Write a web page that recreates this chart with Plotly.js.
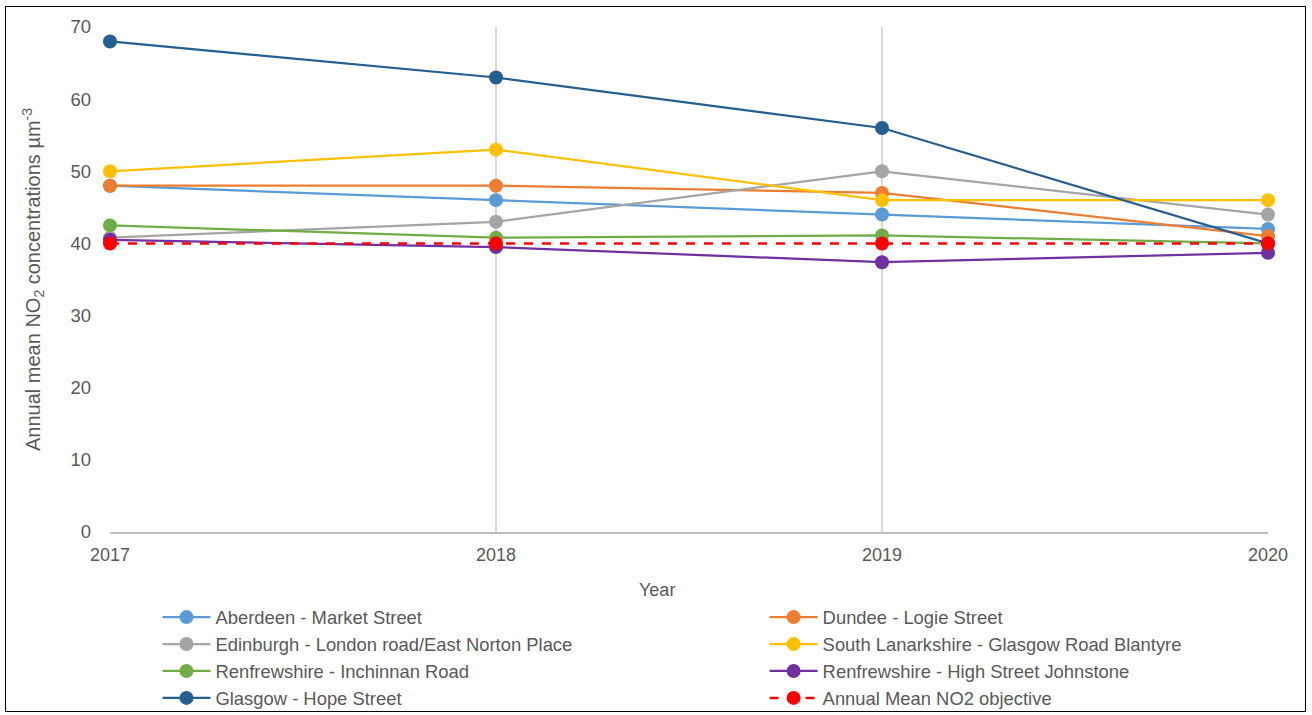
<!DOCTYPE html>
<html><head><meta charset="utf-8">
<script src="https://cdn.plot.ly/plotly-3.0.1.min.js"></script>
<style>
html,body{margin:0;padding:0;background:#fff;}
#wrap{position:relative;width:1312px;height:715px;}
#chart{position:absolute;left:0;top:0;width:1312px;height:715px;}
#frame{position:absolute;left:5px;top:6px;width:1299px;height:704px;border:1.5px solid #000;pointer-events:none;}
</style></head>
<body><div id="wrap"><div id="chart"></div><div id="frame"></div></div>
<script>
const years = [2017, 2018, 2019, 2020];
const aberdeen = [48, 46, 44, 42];
const dundee = [48, 48, 47, 41];
const edinburgh = [40.8, 43, 50, 44];
const southLanarkshire = [50, 53, 46, 46];
const renfrewInchinnan = [42.5, 40.8, 41.1, 40];
const renfrewHighSt = [40.5, 39.5, 37.4, 38.7];
const glasgowHope = [68, 63, 56, 40];
const objective = [40, 40, 40, 40];

const names = [
  'Aberdeen - Market Street',
  'Dundee - Logie Street',
  'Edinburgh - London road/East Norton Place',
  'South Lanarkshire - Glasgow Road Blantyre',
  'Renfrewshire - Inchinnan Road',
  'Renfrewshire - High Street Johnstone',
  'Glasgow - Hope Street',
  'Annual Mean NO2 objective'
];
const series = [aberdeen, dundee, edinburgh, southLanarkshire, renfrewInchinnan, renfrewHighSt, glasgowHope, objective];
const colors = ['#5B9BD5', '#ED7D31', '#A5A5A5', '#FFC000', '#70AD47', '#7030A0', '#255E91', '#FF0000'];

const traces = series.map((ys, i) => ({
  x: years, y: ys, name: names[i], type: 'scatter', mode: 'lines+markers',
  cliponaxis: false,
  legend: i % 2 === 0 ? 'legend' : 'legend2',
  line: {color: colors[i], width: i === 7 ? 2.5 : 2.25, dash: i === 7 ? 'dash' : 'solid'},
  marker: {color: colors[i], size: 14}
}));

const legendBase = {
  orientation: 'v', y: -0.132, xanchor: 'left', yanchor: 'top',
  itemwidth: 48, traceorder: 'normal', tracegroupgap: 0,
  bgcolor: 'rgba(0,0,0,0)',
  font: {size: 18.4, color: '#595959'}
};

const layout = {
  width: 1312, height: 715,
  margin: {l: 110, r: 44, t: 27, b: 183, autoexpand: false},
  paper_bgcolor: '#fff', plot_bgcolor: '#fff',
  font: {family: 'Liberation Sans, Arial, sans-serif', size: 18, color: '#595959'},
  showlegend: true,
  xaxis: {
    range: [2017, 2020], tickvals: years, ticktext: years.map(String),
    showgrid: true, gridcolor: '#D9D9D9', gridwidth: 2,
    showline: true, linecolor: '#BFBFBF', linewidth: 1.5,
    zeroline: false, ticks: '', ticklen: 0, ticklabelstandoff: 6,
    tickfont: {size: 18, color: '#595959'}
  },
  yaxis: {
    range: [0, 70], dtick: 10, showgrid: false, zeroline: false,
    showline: false, ticks: '', ticklabelstandoff: 18,
    tickfont: {size: 18.5, color: '#595959'},
    title: {text: 'Annual mean NO<sub>2</sub> concentrations µm<sup>-3</sup>', font: {size: 20, color: '#595959'}, standoff: 24}
  },
  annotations: [{
    text: 'Year', xref: 'paper', yref: 'paper', x: 0.4724, y: -0.115,
    xanchor: 'center', yanchor: 'middle', showarrow: false,
    font: {size: 18, color: '#595959'}
  }],
  legend: Object.assign({}, legendBase, {x: 0.041}),
  legend2: Object.assign({}, legendBase, {x: 0.5653})
};
Plotly.newPlot('chart', traces, layout, {displayModeBar: false});
</script></body></html>
